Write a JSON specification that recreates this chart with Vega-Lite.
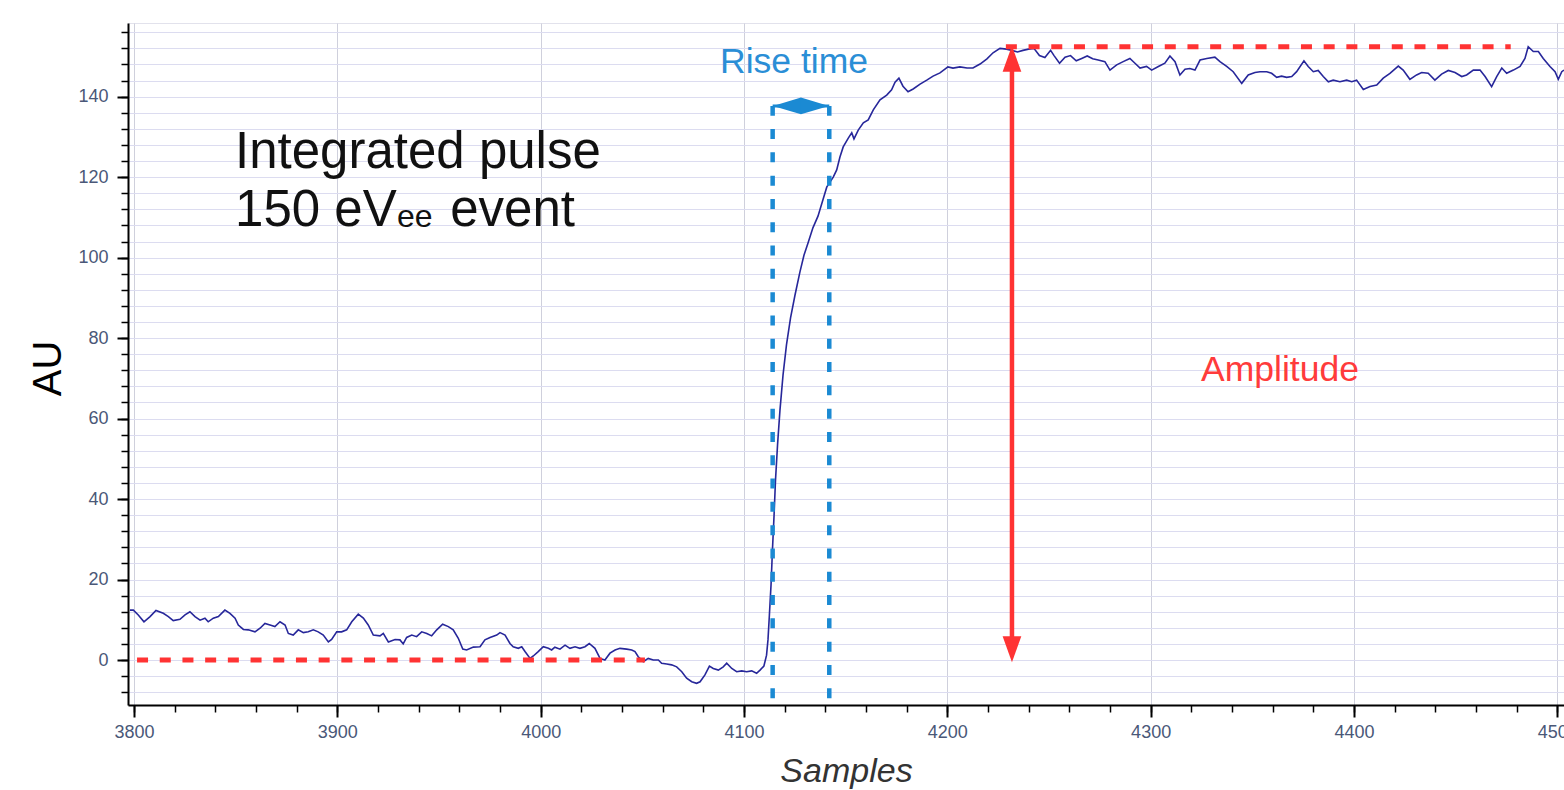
{
"$schema":"https://vega.github.io/schema/vega-lite/v6.json",
"width":1436,"height":682,
"autosize":{"type":"none"},
"padding":{"left":128,"top":23,"right":0,"bottom":85},
"background":"white",
"config":{"view":{"stroke":"#e2e2ec","strokeWidth":1},"font":"Liberation Sans"},
"datasets":{
"trace":[
{"s":3798.0,"v":12.4},{"s":3799.7,"v":12.4},{"s":3802.1,"v":11.2},{"s":3804.9,"v":9.5},{"s":3807.9,"v":10.8},{"s":3810.8,"v":12.3},{"s":3814.4,"v":11.6},{"s":3816.9,"v":10.8},{"s":3819.3,"v":9.8},{"s":3822.6,"v":10.1},{"s":3825.1,"v":11.2},{"s":3827.5,"v":12.0},{"s":3830.0,"v":10.8},{"s":3832.5,"v":9.9},{"s":3834.9,"v":10.4},{"s":3836.5,"v":9.5},{"s":3839.0,"v":10.4},{"s":3841.5,"v":10.8},{"s":3844.7,"v":12.4},{"s":3847.2,"v":11.6},{"s":3849.7,"v":10.4},{"s":3851.3,"v":8.7},{"s":3853.8,"v":7.6},{"s":3856.2,"v":7.5},{"s":3859.5,"v":7.0},{"s":3862.0,"v":7.9},{"s":3864.4,"v":9.1},{"s":3866.9,"v":8.7},{"s":3869.3,"v":8.3},{"s":3871.8,"v":9.5},{"s":3874.3,"v":8.7},{"s":3875.9,"v":6.6},{"s":3878.3,"v":6.2},{"s":3880.8,"v":7.5},{"s":3883.3,"v":6.8},{"s":3885.7,"v":7.0},{"s":3888.2,"v":7.5},{"s":3890.6,"v":7.0},{"s":3893.1,"v":6.2},{"s":3895.6,"v":4.5},{"s":3897.2,"v":5.1},{"s":3899.7,"v":7.0},{"s":3902.1,"v":7.0},{"s":3904.6,"v":7.5},{"s":3907.1,"v":9.5},{"s":3910.3,"v":11.4},{"s":3912.8,"v":10.4},{"s":3915.2,"v":8.7},{"s":3917.7,"v":6.2},{"s":3921.0,"v":6.0},{"s":3922.6,"v":6.6},{"s":3925.1,"v":4.5},{"s":3928.4,"v":5.1},{"s":3930.8,"v":5.0},{"s":3932.4,"v":4.0},{"s":3934.1,"v":5.6},{"s":3936.6,"v":6.2},{"s":3939.0,"v":5.8},{"s":3941.5,"v":7.0},{"s":3944.0,"v":6.6},{"s":3946.4,"v":6.0},{"s":3948.9,"v":7.5},{"s":3951.8,"v":8.9},{"s":3954.6,"v":8.3},{"s":3957.0,"v":7.5},{"s":3959.5,"v":5.4},{"s":3961.7,"v":2.7},{"s":3963.6,"v":2.5},{"s":3966.9,"v":3.2},{"s":3970.2,"v":3.3},{"s":3972.6,"v":5.0},{"s":3975.1,"v":5.6},{"s":3978.4,"v":6.2},{"s":3980.0,"v":6.8},{"s":3982.5,"v":6.2},{"s":3984.9,"v":4.1},{"s":3986.5,"v":3.3},{"s":3989.0,"v":2.9},{"s":3990.7,"v":3.3},{"s":3992.3,"v":2.1},{"s":3994.8,"v":0.4},{"s":3996.4,"v":1.0},{"s":3998.8,"v":2.1},{"s":4001.3,"v":3.3},{"s":4003.8,"v":2.9},{"s":4005.4,"v":2.5},{"s":4007.0,"v":3.2},{"s":4009.5,"v":2.7},{"s":4012.0,"v":3.7},{"s":4014.4,"v":2.9},{"s":4016.9,"v":3.3},{"s":4019.3,"v":2.9},{"s":4021.8,"v":3.3},{"s":4023.9,"v":4.1},{"s":4026.7,"v":2.9},{"s":4029.2,"v":0.4},{"s":4031.6,"v":0.0},{"s":4034.1,"v":1.7},{"s":4036.6,"v":2.5},{"s":4039.0,"v":2.9},{"s":4042.3,"v":2.7},{"s":4044.8,"v":2.5},{"s":4046.4,"v":2.1},{"s":4048.0,"v":0.8},{"s":4050.5,"v":-0.4},{"s":4052.9,"v":0.4},{"s":4055.4,"v":0.0},{"s":4057.9,"v":0.0},{"s":4059.5,"v":-0.8},{"s":4062.0,"v":-1.0},{"s":4064.4,"v":-1.2},{"s":4066.9,"v":-1.7},{"s":4069.4,"v":-2.9},{"s":4071.8,"v":-4.5},{"s":4074.3,"v":-5.4},{"s":4076.7,"v":-5.8},{"s":4078.4,"v":-5.4},{"s":4080.8,"v":-3.7},{"s":4083.0,"v":-1.5},{"s":4084.9,"v":-2.1},{"s":4087.4,"v":-2.5},{"s":4089.8,"v":-1.7},{"s":4091.5,"v":-0.8},{"s":4094.0,"v":-2.1},{"s":4096.4,"v":-2.9},{"s":4098.9,"v":-2.7},{"s":4101.3,"v":-2.9},{"s":4103.8,"v":-2.7},{"s":4106.2,"v":-3.3},{"s":4107.9,"v":-2.5},{"s":4109.8,"v":-1.5},
{"s":4111.1,"v":1.2},{"s":4111.8,"v":5.0},{"s":4112.5,"v":11.2},{"s":4113.3,"v":18.6},{"s":4114.0,"v":27.3},{"s":4114.8,"v":36.0},{"s":4115.5,"v":44.7},{"s":4116.5,"v":53.4},{"s":4117.7,"v":62.1},{"s":4119.2,"v":70.8},{"s":4120.9,"v":78.3},{"s":4122.9,"v":85.0},{"s":4125.1,"v":90.7},{"s":4127.5,"v":96.4},{"s":4129.5,"v":100.6},{"s":4131.5,"v":103.6},{"s":4133.9,"v":107.4},{"s":4136.4,"v":110.3},{"s":4138.8,"v":114.3},{"s":4140.7,"v":117.5},{"s":4142.3,"v":118.8},{"s":4143.9,"v":120.0},{"s":4145.6,"v":121.8},{"s":4147.2,"v":125.0},{"s":4148.8,"v":127.5},{"s":4151.3,"v":129.7},{"s":4153.0,"v":131.0},{"s":4154.1,"v":129.5},{"s":4156.2,"v":131.7},{"s":4158.7,"v":133.5},{"s":4161.1,"v":134.2},{"s":4163.6,"v":136.7},{"s":4166.9,"v":139.2},{"s":4170.2,"v":140.4},{"s":4172.6,"v":141.7},{"s":4174.3,"v":143.6},{"s":4176.2,"v":144.6},{"s":4178.2,"v":142.6},{"s":4180.7,"v":141.2},{"s":4183.2,"v":141.9},{"s":4186.6,"v":143.1},{"s":4189.9,"v":144.1},{"s":4193.0,"v":145.1},{"s":4196.4,"v":145.9},{"s":4200.3,"v":147.4},{"s":4202.8,"v":147.1},{"s":4206.2,"v":147.4},{"s":4209.7,"v":147.1},{"s":4212.6,"v":147.1},{"s":4216.1,"v":148.1},{"s":4219.5,"v":149.4},{"s":4222.5,"v":150.9},{"s":4225.9,"v":152.0},
{"s":4229.1,"v":151.8},{"s":4231.8,"v":151.5},{"s":4234.5,"v":151.1},{"s":4237.2,"v":151.5},{"s":4239.9,"v":151.8},{"s":4242.6,"v":152.0},{"s":4245.3,"v":150.2},{"s":4248.0,"v":149.7},{"s":4250.8,"v":151.5},{"s":4252.5,"v":150.2},{"s":4255.2,"v":148.3},{"s":4257.9,"v":149.8},{"s":4260.6,"v":150.2},{"s":4263.4,"v":148.9},{"s":4266.1,"v":149.5},{"s":4268.8,"v":150.1},{"s":4271.5,"v":149.4},{"s":4274.2,"v":149.1},{"s":4277.5,"v":148.7},{"s":4280.0,"v":146.6},{"s":4283.3,"v":147.9},{"s":4286.5,"v":148.7},{"s":4289.8,"v":149.5},{"s":4292.3,"v":148.3},{"s":4294.8,"v":147.1},{"s":4298.0,"v":147.5},{"s":4300.5,"v":146.6},{"s":4303.8,"v":147.5},{"s":4307.0,"v":148.3},{"s":4309.5,"v":150.1},{"s":4312.0,"v":148.7},{"s":4314.4,"v":145.4},{"s":4316.9,"v":146.8},{"s":4319.3,"v":147.0},{"s":4321.8,"v":146.6},{"s":4324.3,"v":149.1},{"s":4327.6,"v":149.5},{"s":4331.6,"v":149.8},{"s":4334.1,"v":148.7},{"s":4337.4,"v":147.5},{"s":4340.6,"v":146.2},{"s":4344.8,"v":143.3},{"s":4348.0,"v":145.4},{"s":4351.3,"v":146.0},{"s":4353.8,"v":146.2},{"s":4357.1,"v":146.2},{"s":4359.5,"v":145.8},{"s":4362.0,"v":144.8},{"s":4364.4,"v":145.1},{"s":4366.9,"v":144.8},{"s":4369.4,"v":145.0},{"s":4371.8,"v":146.2},{"s":4375.4,"v":148.9},{"s":4377.5,"v":147.5},{"s":4380.0,"v":146.2},{"s":4382.4,"v":146.5},{"s":4384.9,"v":145.0},{"s":4387.4,"v":143.7},{"s":4389.8,"v":144.1},{"s":4393.1,"v":143.7},{"s":4396.4,"v":144.1},{"s":4398.9,"v":143.7},{"s":4401.3,"v":144.1},{"s":4404.6,"v":141.8},{"s":4407.9,"v":142.5},{"s":4411.2,"v":142.9},{"s":4414.4,"v":144.6},{"s":4417.7,"v":145.8},{"s":4421.8,"v":147.6},{"s":4424.2,"v":146.6},{"s":4427.5,"v":144.3},{"s":4430.8,"v":145.4},{"s":4433.3,"v":146.0},{"s":4436.5,"v":145.8},{"s":4439.8,"v":144.1},{"s":4443.1,"v":145.6},{"s":4446.4,"v":146.5},{"s":4449.7,"v":146.0},{"s":4453.0,"v":145.0},{"s":4455.4,"v":145.4},{"s":4458.7,"v":146.6},{"s":4462.0,"v":146.6},{"s":4464.5,"v":145.0},{"s":4467.7,"v":142.5},{"s":4470.2,"v":145.0},{"s":4472.7,"v":147.1},{"s":4475.1,"v":145.8},{"s":4478.4,"v":146.6},{"s":4481.7,"v":147.5},{"s":4484.1,"v":149.5},{"s":4485.7,"v":152.4},{"s":4488.2,"v":151.2},{"s":4490.7,"v":151.2},{"s":4493.1,"v":149.5},{"s":4496.4,"v":147.5},{"s":4498.9,"v":146.2},{"s":4500.5,"v":144.3},{"s":4502.2,"v":146.2},{"s":4503.3,"v":146.6}
]
},
"resolve":{"axis":{"x":"independent","y":"independent"}},
"layer":[
{"data":{"name":"trace"},"mark":{"type":"line","opacity":0},
 "encoding":{
  "x":{"field":"s","type":"quantitative","scale":{"domain":[3797.05,4503.3],"nice":false,"zero":false},
   "axis":{"orient":"bottom","values":[3800,3820,3840,3860,3880,3900,3920,3940,3960,3980,4000,4020,4040,4060,4080,4100,4120,4140,4160,4180,4200,4220,4240,4260,4280,4300,4320,4340,4360,4380,4400,4420,4440,4460,4480,4500],"labels":false,"domain":false,"grid":false,"tickSize":7,"tickWidth":1.5,"tickColor":"#000","title":null}},
  "y":{"field":"v","type":"quantitative","scale":{"domain":[-11.18,158.3],"nice":false,"zero":false},
   "axis":{"orient":"left","values":[-8,-4,0,4,8,12,16,20,24,28,32,36,40,44,48,52,56,60,64,68,72,76,80,84,88,92,96,100,104,108,112,116,120,124,128,132,136,140,144,148,152,156],"labels":false,"domain":false,"grid":true,"gridColor":"#dcdcf0","gridWidth":1,"tickSize":7,"tickWidth":1.5,"tickColor":"#000","title":null}}
 }},
{"data":{"name":"trace"},"mark":{"type":"line","color":"#27279a","strokeWidth":1.6,"clip":true},
 "encoding":{
  "x":{"field":"s","type":"quantitative","scale":{"domain":[3797.05,4503.3],"nice":false,"zero":false},
   "axis":{"orient":"bottom","values":[3800,3900,4000,4100,4200,4300,4400,4500],"format":"d","grid":true,"gridColor":"#cfd0dc","gridWidth":1,"domainColor":"#000","domainWidth":2,"tickColor":"#000","tickWidth":2,"tickSize":12,"labelColor":"#4a5878","labelFontSize":18,"labelFont":"Liberation Sans","labelPadding":6,"title":"Samples","titleFont":"Liberation Sans","titleFontSize":34,"titleFontStyle":"italic","titleFontWeight":"normal","titleColor":"#333333","titleX":718,"titleY":76,"titleAlign":"center","titleBaseline":"alphabetic"}},
  "y":{"field":"v","type":"quantitative","scale":{"domain":[-11.18,158.3],"nice":false,"zero":false},
   "axis":{"orient":"left","values":[0,20,40,60,80,100,120,140],"grid":false,"domainColor":"#000","domainWidth":2,"tickColor":"#000","tickWidth":2,"tickSize":11,"labelColor":"#4a5878","labelFontSize":18,"labelFont":"Liberation Sans","labelPadding":9,"title":"AU","titleFont":"Liberation Sans","titleFontSize":40,"titleFontWeight":"normal","titleColor":"#000","titleAngle":-90,"titleX":-80,"titleY":345,"titleAlign":"center","titleBaseline":"middle"}}
 }},
{"data":{"values":[{"s":3801.5,"s2":4051.3,"v":0},{"s":4228.8,"s2":4477.1,"v":152.4}]},
 "mark":{"type":"rule","color":"#ff3333","strokeWidth":5,"strokeDash":[11,11.7]},
 "encoding":{"x":{"field":"s","type":"quantitative","axis":null,"scale":{"domain":[3797.05,4503.3],"nice":false,"zero":false}},"x2":{"field":"s2"},
  "y":{"field":"v","type":"quantitative","axis":null,"scale":{"domain":[-11.18,158.3],"nice":false,"zero":false}}}},
{"data":{"values":[{"s":4231.8,"v":3,"v2":149.5}]},
 "mark":{"type":"rule","color":"#ff3333","strokeWidth":4.5},
 "encoding":{"x":{"field":"s","type":"quantitative","axis":null,"scale":{"domain":[3797.05,4503.3],"nice":false,"zero":false}},
  "y":{"field":"v","type":"quantitative","axis":null,"scale":{"domain":[-11.18,158.3],"nice":false,"zero":false}},"y2":{"field":"v2"}}},
{"data":{"values":[{"s":4231.8,"v":149.4}]},
 "mark":{"type":"point","filled":true,"color":"#ff3333","opacity":1,"size":676,"strokeWidth":0,"shape":"M0,-1L-0.72,1L0.72,1Z"},
 "encoding":{"x":{"field":"s","type":"quantitative","axis":null,"scale":{"domain":[3797.05,4503.3],"nice":false,"zero":false}},
  "y":{"field":"v","type":"quantitative","axis":null,"scale":{"domain":[-11.18,158.3],"nice":false,"zero":false}}}},
{"data":{"values":[{"s":4231.8,"v":2.7}]},
 "mark":{"type":"point","filled":true,"color":"#ff3333","opacity":1,"size":676,"strokeWidth":0,"shape":"M0,1L-0.72,-1L0.72,-1Z"},
 "encoding":{"x":{"field":"s","type":"quantitative","axis":null,"scale":{"domain":[3797.05,4503.3],"nice":false,"zero":false}},
  "y":{"field":"v","type":"quantitative","axis":null,"scale":{"domain":[-11.18,158.3],"nice":false,"zero":false}}}},
{"data":{"values":[{"s":4114.1,"v":-9.5,"v2":137.7},{"s":4141.95,"v":-9.5,"v2":137.7}]},
 "mark":{"type":"rule","color":"#1b8ad3","strokeWidth":4.5,"strokeDash":[10,13.3]},
 "encoding":{"x":{"field":"s","type":"quantitative","axis":null,"scale":{"domain":[3797.05,4503.3],"nice":false,"zero":false}},
  "y":{"field":"v","type":"quantitative","axis":null,"scale":{"domain":[-11.18,158.3],"nice":false,"zero":false}},"y2":{"field":"v2"}}},
{"data":{"values":[{"s":4114.1,"s2":4141.95,"v":137.7}]},
 "mark":{"type":"rule","color":"#1b8ad3","strokeWidth":3},
 "encoding":{"x":{"field":"s","type":"quantitative","axis":null,"scale":{"domain":[3797.05,4503.3],"nice":false,"zero":false}},"x2":{"field":"s2"},
  "y":{"field":"v","type":"quantitative","axis":null,"scale":{"domain":[-11.18,158.3],"nice":false,"zero":false}}}},
{"data":{"values":[{"s":4121.15,"v":137.7}]},
 "mark":{"type":"point","filled":true,"color":"#1b8ad3","opacity":1,"size":784,"strokeWidth":0,"shape":"M-1,0L1,-0.6L1,0.6Z"},
 "encoding":{"x":{"field":"s","type":"quantitative","axis":null,"scale":{"domain":[3797.05,4503.3],"nice":false,"zero":false}},
  "y":{"field":"v","type":"quantitative","axis":null,"scale":{"domain":[-11.18,158.3],"nice":false,"zero":false}}}},
{"data":{"values":[{"s":4134.9,"v":137.7}]},
 "mark":{"type":"point","filled":true,"color":"#1b8ad3","opacity":1,"size":784,"strokeWidth":0,"shape":"M1,0L-1,-0.6L-1,0.6Z"},
 "encoding":{"x":{"field":"s","type":"quantitative","axis":null,"scale":{"domain":[3797.05,4503.3],"nice":false,"zero":false}},
  "y":{"field":"v","type":"quantitative","axis":null,"scale":{"domain":[-11.18,158.3],"nice":false,"zero":false}}}},
{"data":{"values":[{"t":"Integrated pulse","s":3849.7,"v":122.3},{"t":"150 eV","s":3849.7,"v":107.9},{"t":"event","s":3955.5,"v":107.9}]},
 "mark":{"type":"text","align":"left","baseline":"alphabetic","fontSize":51,"font":"Liberation Sans","color":"#111111"},
 "encoding":{"x":{"field":"s","type":"quantitative","axis":null,"scale":{"domain":[3797.05,4503.3],"nice":false,"zero":false}},
  "y":{"field":"v","type":"quantitative","axis":null,"scale":{"domain":[-11.18,158.3],"nice":false,"zero":false}},"text":{"field":"t"}}},
{"data":{"values":[{"t":"ee","s":3929.3,"v":107.7}]},
 "mark":{"type":"text","align":"left","baseline":"alphabetic","fontSize":32,"font":"Liberation Sans","color":"#111111"},
 "encoding":{"x":{"field":"s","type":"quantitative","axis":null,"scale":{"domain":[3797.05,4503.3],"nice":false,"zero":false}},
  "y":{"field":"v","type":"quantitative","axis":null,"scale":{"domain":[-11.18,158.3],"nice":false,"zero":false}},"text":{"field":"t"}}},
{"data":{"values":[{"t":"Rise time","s":4124.6,"v":145.9}]},
 "mark":{"type":"text","align":"center","baseline":"alphabetic","fontSize":35.5,"font":"Liberation Sans","color":"#2a8ed6"},
 "encoding":{"x":{"field":"s","type":"quantitative","axis":null,"scale":{"domain":[3797.05,4503.3],"nice":false,"zero":false}},
  "y":{"field":"v","type":"quantitative","axis":null,"scale":{"domain":[-11.18,158.3],"nice":false,"zero":false}},"text":{"field":"t"}}},
{"data":{"values":[{"t":"Amplitude","s":4363.6,"v":69.3}]},
 "mark":{"type":"text","align":"center","baseline":"alphabetic","fontSize":35.5,"font":"Liberation Sans","color":"#ff3b3b"},
 "encoding":{"x":{"field":"s","type":"quantitative","axis":null,"scale":{"domain":[3797.05,4503.3],"nice":false,"zero":false}},
  "y":{"field":"v","type":"quantitative","axis":null,"scale":{"domain":[-11.18,158.3],"nice":false,"zero":false}},"text":{"field":"t"}}}
]
}
